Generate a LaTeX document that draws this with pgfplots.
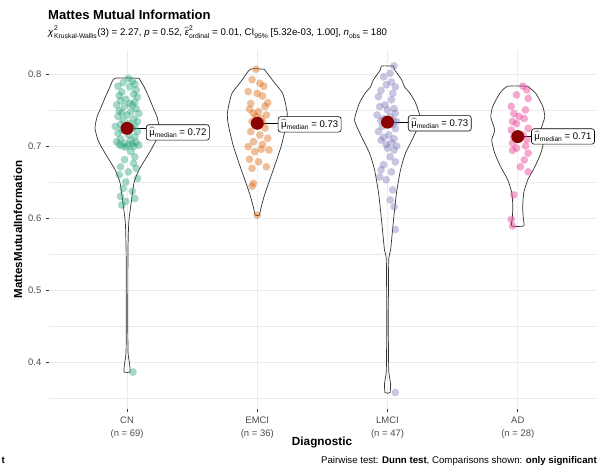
\documentclass[border=0pt]{standalone}
\usepackage{amsmath}
\usepackage{fontspec}
\setmainfont{Liberation Sans}
\usepackage{pgfplots}
\pgfplotsset{compat=1.18}
\usepgfplotslibrary{statistics}
\definecolor{cn}{HTML}{1B9E77}
\definecolor{emci}{HTML}{D95F02}
\definecolor{lmci}{HTML}{7570B3}
\definecolor{ad}{HTML}{E7298A}
\definecolor{gridc}{HTML}{EBEBEB}
\definecolor{txtgray}{HTML}{4D4D4D}
\definecolor{boxc}{HTML}{333333}
\definecolor{medred}{HTML}{8B0000}
\newcommand{\sm}[1]{\scalebox{0.7}{#1}}
\newcommand{\medlab}[1]{\(\widehat{\text{μ}}\)\raisebox{-0.25em}{\sm{median}} = #1}
\begin{document}
\begin{tikzpicture}[x=1bp,y=1bp]
\useasboundingbox (0,0) rectangle (604,470);
\begin{scope}
\clip (0,0) rectangle (604,421);
\begin{axis}[
  at={(48.9bp,61bp)}, anchor=south west,
  width=547bp, height=359bp, scale only axis,
  xmin=0.4, xmax=4.6, ymin=0.3347, ymax=0.8333,
  xtick={1,2,3,4},
  xticklabels={{CN\\(n = 69)},{EMCI\\(n = 36)},{LMCI\\(n = 47)},{AD\\(n = 28)}},
  xticklabel style={align=center, font=\fontsize{9.5}{13.5}\selectfont, text=txtgray},
  ytick={0.4,0.5,0.6,0.7,0.8},
  yticklabels={0.4,0.5,0.6,0.7,0.8},
  minor ytick={0.35,0.45,0.55,0.65,0.75},
  yticklabel style={font=\fontsize{9.5}{11}\selectfont, text=txtgray},
  /pgf/number format/assume math mode=true,
  xmajorgrids, ymajorgrids, yminorgrids,
  major grid style={draw=gridc, line width=0.9bp},
  minor grid style={draw=gridc, line width=0.5bp},
  axis line style={draw=none},
  tick align=outside, major tick length=3bp, minor tick length=0bp,
  tick style={color=boxc, line width=0.6bp},
  tick pos=left,
  xticklabel shift=1bp, yticklabel shift=1bp,
  clip=false,
]
% ---------- jittered points ----------
\pgfplotsset{jit/.style={only marks, mark=*, mark size=3.9, color=#1, mark options={draw opacity=0, line width=0pt, fill=#1, fill opacity=0.4}}}
\addplot[jit=cn] coordinates {
(1.01,0.794)(1.04,0.790)(0.97,0.788)(1.06,0.786)(0.93,0.783)(1.02,0.782)(1.07,0.778)(0.96,0.775)
(1.05,0.772)(0.94,0.770)(1.08,0.768)(0.99,0.765)(0.95,0.763)(1.06,0.761)(1.02,0.759)(0.92,0.757)
(1.04,0.757)(0.98,0.755)(1.07,0.752)(0.94,0.749)(1.03,0.748)(0.96,0.746)(1.09,0.745)(1.00,0.743)
(0.93,0.741)(1.05,0.738)(0.97,0.736)(1.08,0.734)(1.02,0.7315)(0.95,0.730)(1.06,0.728)(0.91,0.727)
(1.03,0.726)(0.98,0.725)(1.04,0.7245)(0.96,0.722)(1.08,0.720)(0.93,0.7176)(1.01,0.7153)(1.06,0.713)
(0.95,0.710)(1.03,0.708)(0.92,0.706)(1.07,0.705)(0.98,0.704)(1.04,0.703)(0.94,0.702)(1.09,0.701)
(1.01,0.701)(0.96,0.700)(1.05,0.699)(0.99,0.698)(1.03,0.692)(1.06,0.685)(0.98,0.681)(1.05,0.676)
(0.95,0.671)(1.07,0.669)(1.01,0.664)(0.94,0.660)(1.08,0.655)(0.99,0.650)(0.97,0.641)(1.04,0.637)
(0.95,0.630)(1.06,0.627)(0.99,0.623)(0.96,0.618)(1.045,0.386)};
\addplot[jit=emci] coordinates {
(1.99,0.8065)(1.96,0.792)(2.02,0.787)(2.05,0.783)(1.93,0.7755)(2.00,0.773)(2.04,0.7694)(2.08,0.760)
(1.95,0.759)(2.06,0.755)(1.94,0.751)(2.01,0.7477)(1.97,0.7454)(2.07,0.743)(1.99,0.7407)(2.03,0.738)
(1.96,0.734)(2.04,0.733)(1.98,0.729)(2.06,0.725)(1.95,0.720)(2.02,0.7153)(2.08,0.7106)(1.97,0.706)
(2.04,0.702)(1.93,0.699)(2.03,0.6954)(2.09,0.6944)(1.98,0.692)(1.94,0.6815)(2.01,0.678)(2.07,0.671)
(1.96,0.669)(1.97,0.648)(1.96,0.644)(2.00,0.604)};
\addplot[jit=lmci] coordinates {
(3.05,0.811)(3.02,0.801)(2.97,0.796)(3.03,0.789)(2.99,0.785)(3.06,0.782)(2.95,0.777)(3.04,0.773)
(2.93,0.7685)(3.03,0.764)(2.98,0.757)(2.94,0.7546)(3.05,0.752)(3.00,0.750)(3.06,0.7454)(2.92,0.743)
(3.02,0.741)(2.97,0.738)(3.04,0.736)(2.95,0.735)(3.07,0.734)(3.00,0.733)(3.04,0.730)(2.96,0.727)
(3.06,0.724)(2.93,0.720)(3.01,0.7153)(2.97,0.712)(3.05,0.710)(2.95,0.708)(3.03,0.7046)(2.99,0.702)
(3.07,0.700)(3.00,0.697)(3.05,0.6944)(3.02,0.685)(3.06,0.678)(2.97,0.674)(2.95,0.667)(3.03,0.664)
(2.94,0.657)(2.99,0.653)(3.04,0.639)(3.02,0.625)(3.05,0.6157)(3.06,0.584)(3.06,0.3575)};
\addplot[jit=ad] coordinates {
(4.04,0.783)(4.07,0.778)(3.99,0.771)(4.08,0.766)(3.95,0.755)(4.06,0.750)(3.97,0.745)(4.01,0.741)
(4.05,0.738)(3.96,0.734)(3.99,0.731)(4.08,0.7245)(3.95,0.722)(4.04,0.7153)(3.97,0.713)(4.02,0.713)
(4.07,0.709)(3.96,0.704)(4.06,0.700)(3.99,0.697)(3.96,0.694)(4.08,0.690)(4.05,0.6806)(4.02,0.671)
(4.08,0.664)(3.97,0.632)(3.95,0.598)(3.96,0.589)};
% ---------- boxplots ----------
\pgfplotsset{boxstyle/.style={draw=boxc, fill=white, fill opacity=0.2, line width=0.7bp, solid, mark=none,
  every median/.style={line width=1.4bp}}}
\addplot[boxstyle, boxplot prepared={median=0.7245, upper quartile=0.756, lower quartile=0.698,
  upper whisker=0.794, lower whisker=0.618, draw position=1, box extend=0.3, whisker extend=0}] coordinates {};
\addplot[boxstyle, boxplot prepared={median=0.7315, upper quartile=0.758, lower quartile=0.696,
  upper whisker=0.8065, lower whisker=0.604, draw position=2, box extend=0.3, whisker extend=0}] coordinates {};
\addplot[boxstyle, boxplot prepared={median=0.733, upper quartile=0.753, lower quartile=0.699,
  upper whisker=0.811, lower whisker=0.625, draw position=3, box extend=0.3, whisker extend=0}] coordinates {};
\addplot[boxstyle, boxplot prepared={median=0.713, upper quartile=0.7407, lower quartile=0.690,
  upper whisker=0.783, lower whisker=0.632, draw position=4, box extend=0.3, whisker extend=0}] coordinates {};
% ---------- violins ----------
\pgfplotsset{violin/.style={draw=boxc, line width=0.7bp, fill=white, fill opacity=0.2, smooth, tension=0.35, mark=none}}
\addplot[violin] coordinates {
(1.092,0.794)(1.131,0.782)(1.162,0.770)(1.185,0.760)(1.208,0.750)(1.231,0.740)(1.246,0.725)(1.223,0.708)
(1.169,0.690)(1.092,0.667)(1.054,0.649)(1.031,0.620)(1.013,0.593)(1.007,0.550)(1.006,0.450)(1.008,0.413)
(1.017,0.400)(1.022,0.393)(1.022,0.386)(0.978,0.386)(0.978,0.393)(0.983,0.400)(0.992,0.413)(0.994,0.450)
(0.993,0.550)(0.987,0.593)(0.969,0.620)(0.946,0.649)(0.908,0.667)(0.831,0.690)(0.777,0.708)(0.754,0.725)
(0.769,0.740)(0.792,0.750)(0.815,0.760)(0.838,0.770)(0.869,0.782)(0.908,0.794)(1.092,0.794)};
\addplot[violin] coordinates {
(2.054,0.8065)(2.123,0.790)(2.192,0.774)(2.215,0.760)(2.230,0.745)(2.223,0.730)(2.184,0.700)(2.123,0.667)
(2.061,0.635)(2.031,0.616)(2.015,0.604)(1.985,0.604)(1.969,0.616)(1.939,0.635)(1.877,0.667)(1.816,0.700)
(1.777,0.730)(1.770,0.745)(1.785,0.760)(1.808,0.774)(1.877,0.790)(1.946,0.8065)(2.054,0.8065)};
\addplot[violin] coordinates {
(3.046,0.811)(3.054,0.806)(3.108,0.792)(3.131,0.782)(3.169,0.774)(3.215,0.760)(3.253,0.736)(3.200,0.713)
(3.138,0.690)(3.100,0.667)(3.069,0.635)(3.046,0.597)(3.031,0.569)(3.023,0.555)(3.009,0.540)(3.006,0.450)
(3.009,0.390)(3.015,0.379)(3.023,0.370)(3.019,0.3575)(2.981,0.3575)(2.977,0.370)(2.985,0.379)(2.991,0.390)
(2.994,0.450)(2.991,0.540)(2.977,0.555)(2.969,0.569)(2.954,0.597)(2.931,0.635)(2.900,0.667)(2.862,0.690)
(2.800,0.713)(2.747,0.736)(2.785,0.760)(2.831,0.774)(2.869,0.782)(2.892,0.792)(2.946,0.806)(2.954,0.811)(3.046,0.811)};
\addplot[violin] coordinates {
(4.077,0.783)(4.138,0.773)(4.192,0.755)(4.207,0.740)(4.177,0.722)(4.200,0.708)(4.177,0.690)(4.131,0.671)
(4.077,0.653)(4.046,0.635)(4.038,0.616)(4.042,0.600)(4.046,0.589)(3.954,0.589)(3.958,0.600)(3.962,0.616)
(3.954,0.635)(3.923,0.653)(3.869,0.671)(3.823,0.690)(3.800,0.708)(3.823,0.722)(3.793,0.740)(3.808,0.755)
(3.862,0.773)(3.923,0.783)(4.077,0.783)};
% ---------- medians ----------
\draw[black, line width=0.8bp] (axis cs:1,0.7245) -- (axis cs:1.146,0.7245);
\draw[black, line width=0.8bp] (axis cs:2,0.7315) -- (axis cs:2.158,0.7315);
\draw[black, line width=0.8bp] (axis cs:3,0.733) -- (axis cs:3.157,0.733);
\draw[black, line width=0.8bp] (axis cs:4,0.713) -- (axis cs:4.103,0.713);
\addplot[only marks, mark=*, mark size=6.5, color=medred, mark options={draw opacity=0, fill=medred}] coordinates {
(1,0.7245)(2,0.7315)(3,0.733)(4,0.713)};
\tikzset{mlab/.style={anchor=west, draw=black, line width=0.6bp, rounded corners=2.5bp, fill=white,
  inner xsep=3bp, inner ysep=2.5bp, font=\fontsize{9.6}{10}\selectfont}}
\node[mlab] at (axis cs:1.146,0.7188) {\medlab{0.72}};
\node[mlab] at (axis cs:2.158,0.730) {\medlab{0.73}};
\node[mlab] at (axis cs:3.157,0.7315) {\medlab{0.73}};
\node[mlab] at (axis cs:4.103,0.7132) {\medlab{0.71}};
\end{axis}
\end{scope}
% ---------- titles ----------
\begin{scope}
\clip (0,446) rectangle (604,470);
\node[anchor=base west, inner sep=0pt, font=\fontsize{13.1}{15}\selectfont\bfseries] at (48,450.5) {Mattes Mutual Information};
\end{scope}
\begin{scope}
\clip (0,427) rectangle (604,446);
\node[anchor=base west, inner sep=0pt, font=\fontsize{9.7}{11}\selectfont] (s1) at (48,434.5) {\textit{χ}};
\node[anchor=base west, inner sep=0pt, font=\fontsize{6.8}{7}\selectfont] at ([xshift=0.2bp,yshift=5.2bp]s1.base east) {2};
\node[anchor=base west, inner sep=0pt, font=\fontsize{6.8}{7}\selectfont] (s2) at ([xshift=0.2bp,yshift=-2.8bp]s1.base east) {Kruskal-Wallis};
\node[anchor=base west, inner sep=0pt, font=\fontsize{9.7}{11}\selectfont] at ([yshift=2.8bp]s2.base east)
  {(3) = 2.27, \textit{p} = 0.52, \(\widehat{\text{\textit{ε}}}\)\makebox[0pt][l]{\raisebox{0.55em}{\sm{2}}}\raisebox{-0.3em}{\sm{ordinal}} = 0.01, CI\raisebox{-0.3em}{\sm{95\%}} [5.32e-03, 1.00], \textit{n}\raisebox{-0.3em}{\sm{obs}} = 180};
\end{scope}
\node[rotate=90, inner sep=0pt, font=\fontsize{11.6}{13}\selectfont\bfseries] at (18,240.5) {MattesMutualInformation};
\node[anchor=base, inner sep=0pt, font=\fontsize{11.8}{13}\selectfont\bfseries] at (322,24) {Diagnostic};
\node[anchor=base east, inner sep=0pt, font=\fontsize{9.7}{11}\selectfont] at (597,6.5)
  {Pairwise test: \textbf{Dunn test}, Comparisons shown: \textbf{only significant}};
\node[anchor=base west, inner sep=0pt, font=\fontsize{9.7}{11}\selectfont\bfseries] at (1.5,6.5) {t};
\end{tikzpicture}
\end{document}
